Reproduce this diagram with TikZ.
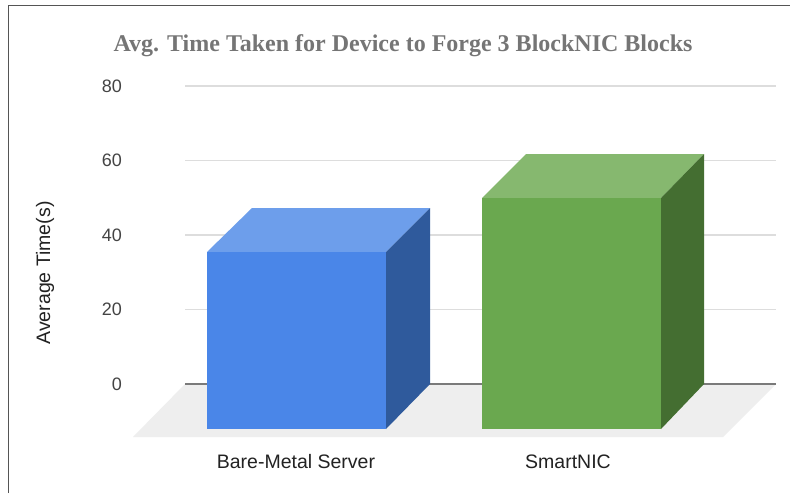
\documentclass[tikz,border=0pt]{standalone}
\usepackage{fontspec}
\setmainfont{Liberation Serif}
\setsansfont{Liberation Sans}
\definecolor{gridc}{HTML}{DDDDDD}
\definecolor{zeroc}{HTML}{7A7A7A}
\definecolor{floorc}{HTML}{EEEEEE}
\definecolor{framec}{HTML}{555555}
\definecolor{titlec}{HTML}{757575}
\definecolor{tickc}{HTML}{444444}
\definecolor{labc}{HTML}{222222}
\definecolor{bfront}{HTML}{4A86E8}
\definecolor{btop}{HTML}{6D9EEB}
\definecolor{bside}{HTML}{2F5A9C}
\definecolor{gfront}{HTML}{6AA84F}
\definecolor{gtop}{HTML}{86B86F}
\definecolor{gside}{HTML}{446E31}
\tikzset{
  gridline/.style={draw=gridc, line width=1.6pt},
  zeroline/.style={draw=zeroc, line width=1.6pt},
  ticklab/.style={anchor=east, inner sep=0pt, font=\sffamily\fontsize{18}{18}\selectfont, text=tickc},
  catlab/.style={inner sep=0pt, font=\sffamily\fontsize{19.5}{20}\selectfont, text=labc},
  titlelab/.style={inner sep=0pt, font=\bfseries\fontsize{24}{24}\selectfont, text=titlec},
}
\begin{document}
\begin{tikzpicture}[x=1pt,y=-1pt]
\useasboundingbox (0,0) rectangle (790,493);
\fill[white] (0,0) rectangle (790,493);
% frame
\draw[framec, line width=1.5pt] (8.5,493) -- (8.5,5.5) -- (790,5.5);
% title
\node[titlelab] (title) at (403,46) {Avg. Time Taken for Device to Forge 3 BlockNIC Blocks};
% gridlines
\foreach \v/\y in {80/86,60/160.5,40/235,20/309.5}{
  \draw[gridline] (185,\y) -- (776,\y);
  \node[ticklab] (t\v) at (122,\y) {\v};
}
\node[ticklab] (t0) at (122,384) {0};
% floor
\fill[floorc] (185,384) -- (776,384) -- (723,437) -- (133,437) -- cycle;
\draw[zeroline] (185,384) -- (776,384);
% y axis title
\node[catlab, rotate=90] (ytitle) at (45,273) {Average Time(s)};
% blue bar
\fill[btop] (207,252) -- (252,208) -- (430,208) -- (386,252) -- cycle;
\fill[bside] (386,252) -- (430,208) -- (430,384) -- (386,429) -- cycle;
\fill[bfront] (207,252) rectangle (386,429);
% green bar
\fill[gtop] (482,198) -- (526,154) -- (704,154) -- (661,198) -- cycle;
\fill[gside] (661,198) -- (704,154) -- (704,384) -- (661,429) -- cycle;
\fill[gfront] (482,198) rectangle (661,429);
% category labels
\node[catlab] (c1) at (296,462) {Bare-Metal Server};
\node[catlab] (c2) at (568,462) {SmartNIC};
\end{tikzpicture}
\end{document}
